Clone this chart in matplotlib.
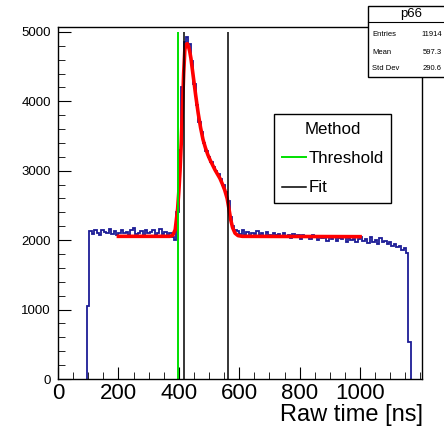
import numpy as np
import matplotlib
matplotlib.use("Agg")
import matplotlib.pyplot as plt
from matplotlib.patches import Rectangle
from matplotlib.lines import Line2D
from matplotlib.ticker import MultipleLocator, FixedLocator

plt.rcParams["font.family"] = ["Liberation Sans", "DejaVu Sans"]

# histogram p66: 8 ns bins starting at 96 ns
bin_start = 96
bin_width = 8
counts = [
    1050,
    # baseline before the pulse
    2130, 2090, 2150, 2110, 2080, 2140, 2120, 2100, 2160, 2090,
    2130, 2070, 2110, 2150, 2100, 2120, 2080, 2140, 2170, 2090,
    2110, 2130, 2060, 2150, 2100, 2120, 2140, 2080, 2110, 2160,
    2090, 2120, 2050, 2100, 2040,
    # pulse
    2000, 2400, 3300, 4200, 4850, 4920, 4820, 4580, 4250, 3950,
    3700, 3560, 3400, 3290, 3200, 3120, 3060, 3000, 2950, 2880,
    2790, 2700, 2560, 2330, 2200, 2150,
    # tail
    2130, 2090, 2150, 2080, 2120, 2060, 2110, 2090, 2130, 2070,
    2100, 2050, 2120, 2080, 2060, 2110, 2070, 2090, 2040, 2100,
    2060, 2080, 2030, 2090, 2050, 2070, 2020, 2080, 2040, 2060,
    2010, 2070, 2040, 2000, 2050, 2030, 2060, 1990, 2040, 2020,
    2050, 1990, 2030, 2010, 2040, 1980, 2030, 2000, 2020, 1970,
    2010, 2040, 1990, 2020, 1960, 2050, 1980, 2000, 1950, 2030,
    1970, 1990, 1940, 1970, 1920, 1950, 1900, 1910, 1860, 1880,
    1820,
    540,
]

# fitted curve (red)
fit_t = [200, 370, 380, 388, 392, 396, 400, 404, 408, 412, 416, 420, 424,
         428, 432, 436, 440, 448, 456, 464, 472, 480, 488, 496, 504, 512,
         520, 528, 536, 544, 552, 560, 566, 572, 578, 586, 596, 610, 1000]
fit_v = [2055, 2055, 2070, 2150, 2300, 2450, 2700, 3000, 3400, 3900, 4400,
         4750, 4820, 4830, 4790, 4720, 4620, 4350, 4080, 3830, 3620, 3450,
         3330, 3230, 3150, 3080, 3010, 2950, 2890, 2810, 2720, 2600, 2450,
         2290, 2180, 2100, 2065, 2055, 2050]

# time estimates
threshold_t = 397
fit_times = [417, 564]

x_labels = [0, 200, 400, 600, 800, 1000]

stats_name = "p66"
stats_rows = [("Entries", "11914"), ("Mean", "597.3"), ("Std Dev", "290.6")]

W, H = 444, 429
fig = plt.figure(figsize=(W / 100, H / 100), dpi=100)
ax = fig.add_axes([58 / W, 1 - 379 / H, (422 - 58) / W, (379 - 27) / H])

edges = bin_start + bin_width * np.arange(len(counts) + 1)
ax.stairs(counts, edges, baseline=0, color="#1c1c96", linewidth=1.3)
ax.plot(fit_t, fit_v, color="red", linewidth=2.6)

ax.vlines(threshold_t, 0, 5000, color="#00e000", linewidth=1.4)
ax.vlines(fit_times, 0, 5000, color="black", linewidth=1.1)

ax.set_xlim(0, 1205)
ax.set_ylim(0, 5070)
ax.xaxis.set_major_locator(FixedLocator(x_labels))
ax.xaxis.set_minor_locator(MultipleLocator(50))
ax.yaxis.set_major_locator(MultipleLocator(1000))
ax.yaxis.set_minor_locator(MultipleLocator(200))
ax.tick_params(which="both", direction="in", top=False, right=False)
ax.tick_params(axis="x", which="major", length=9, labelsize=16, pad=3)
ax.tick_params(axis="x", which="minor", length=5)
ax.tick_params(axis="y", which="major", length=9, labelsize=9.5, pad=5)
ax.tick_params(axis="y", which="minor", length=5)
for s in ax.spines.values():
    s.set_linewidth(1.0)

fig.text(423 / W, 1 - 415 / H, "Raw time [ns]", ha="right", va="center",
         fontsize=17)

handles = [Line2D([], [], color="#00e000", linewidth=1.4, label="Threshold"),
           Line2D([], [], color="black", linewidth=1.1, label="Fit")]
leg = ax.legend(handles=handles, title="Method", loc="upper left",
                bbox_to_anchor=(274 / W, 1 - 114 / H),
                bbox_transform=fig.transFigure, fontsize=12.2,
                title_fontsize=12.2, frameon=True, fancybox=False,
                edgecolor="black", framealpha=1, borderaxespad=0,
                borderpad=0.45, handlelength=1.45, handletextpad=0.12,
                labelspacing=0.85)
leg.get_frame().set_linewidth(1.0)

# stats box (runs off the right edge, as in the reference)
box = Rectangle((368 / W, 1 - 77 / H), 90 / W, 71 / H,
                transform=fig.transFigure, facecolor="white",
                edgecolor="black", linewidth=1.0, zorder=5)
fig.patches.append(box)
fig.lines.append(Line2D([368 / W, 1], [1 - 22 / H, 1 - 22 / H],
                        transform=fig.transFigure, color="black",
                        linewidth=0.8, zorder=6))
fig.text(411 / W, 1 - 14 / H, stats_name, ha="center", va="center",
         fontsize=9.5, zorder=7)
for i, (k, v) in enumerate(stats_rows):
    y = 1 - (35 + 17 * i) / H
    fig.text(372 / W, y, k, ha="left", va="center", fontsize=5.5, zorder=7)
    fig.text(442 / W, y, v, ha="right", va="center", fontsize=5.5, zorder=7)

fig.savefig("out.png", dpi=100)
